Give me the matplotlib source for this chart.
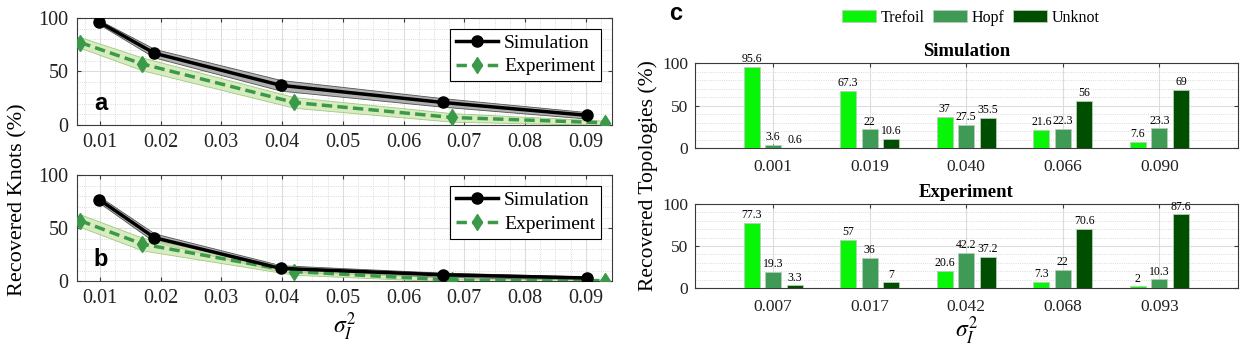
import numpy as np
import matplotlib.pyplot as plt
from matplotlib.ticker import MultipleLocator
from matplotlib.patches import Patch

plt.rcParams['font.family'] = ['Liberation Serif', 'DejaVu Serif']
plt.rcParams['mathtext.fontset'] = 'stix'

# --- panels a, b: recovered knots vs sigma_I^2 ---
sim_x = [0.0099, 0.019, 0.0398, 0.0665, 0.0902]
exp_x = [0.0068, 0.017, 0.042, 0.068, 0.0932]

sim_a = [96, 67, 37, 21, 9]
sim_a_err = [2, 4, 5, 4, 3]
exp_a = [77, 57, 21, 7, 2]
exp_a_err = [5, 6, 5, 4, 2]

sim_b = [77, 41, 12, 6, 3]
sim_b_err = [3, 4, 3, 2, 1.5]
exp_b = [57, 35, 9, 1, 0.5]
exp_b_err = [6, 6, 3, 1.5, 1]

# --- panel c: recovered topologies ---
sim_groups = ['0.001', '0.019', '0.040', '0.066', '0.090']
exp_groups = ['0.007', '0.017', '0.042', '0.068', '0.093']
topologies = ['Trefoil', 'Hopf', 'Unknot']
sim_trefoil = [95.6, 67.3, 37, 21.6, 7.6]
sim_hopf = [3.6, 22, 27.5, 22.3, 23.3]
sim_unknot = [0.6, 10.6, 35.5, 56, 69]
exp_trefoil = [77.3, 57, 20.6, 7.3, 2]
exp_hopf = [19.3, 36, 42.2, 22, 10.3]
exp_unknot = [3.3, 7, 37.2, 70.6, 87.6]

topo_colors = ['#08f508', '#3e9a55', '#004f00']
exp_color = '#3a9a4a'
spine_col = '#3a3a3a'

fig = plt.figure(figsize=(12.59, 3.51), dpi=100)


def style_axes(ax):
    for s in ax.spines.values():
        s.set_color(spine_col)
        s.set_linewidth(0.8)
    ax.tick_params(which='both', direction='in', length=3, colors=spine_col,
                   top=True, right=True)
    ax.tick_params(which='minor', length=0)
    ax.tick_params(labelcolor='#222222')
    ax.grid(which='major', color='#dcdcdc', linewidth=0.8)
    ax.grid(which='minor', color='#cfcfcf', linewidth=0.6, linestyle=':')
    ax.set_axisbelow(True)


def knot_panel(ax, sim, sim_err, exp, exp_err, letter):
    sim = np.array(sim, dtype=float)
    exp = np.array(exp, dtype=float)
    ax.fill_between(sim_x, sim - sim_err, sim + sim_err, facecolor='#a8a8a8',
                    edgecolor='#444444', linewidth=0.6, alpha=0.9, zorder=2)
    ax.fill_between(exp_x, exp - exp_err, exp + exp_err, facecolor='#cfe8b0',
                    edgecolor='#8cc06a', linewidth=0.6, alpha=0.8, zorder=2)
    ax.plot(sim_x, sim, '-o', color='black', lw=2.5, ms=8, label='Simulation', zorder=4)
    ax.plot(exp_x, exp, '--d', color=exp_color, lw=2.5, ms=8, label='Experiment',
            dashes=(3, 1.5), zorder=3)
    ax.set_xlim(0.00622, 0.0943)
    ax.set_ylim(0, 100)
    ax.xaxis.set_minor_locator(MultipleLocator(0.0025))
    ax.yaxis.set_major_locator(MultipleLocator(50))
    ax.yaxis.set_minor_locator(MultipleLocator(10))
    ax.set_xticks([0.01, 0.02, 0.03, 0.04, 0.05, 0.06, 0.07, 0.08, 0.09])
    ax.set_xticklabels(['0.01', '0.02', '0.03', '0.04', '0.05', '0.06', '0.07', '0.08', '0.09'])
    ax.tick_params(labelsize=14.5, pad=6)
    style_axes(ax)
    leg = ax.legend(loc='upper right', fontsize=14, fancybox=False, framealpha=1,
                    edgecolor='black', handlelength=2.2, handletextpad=0.3,
                    borderpad=0.3, labelspacing=0.3, borderaxespad=0.55)
    leg.get_frame().set_linewidth(0.8)
    ax.text(0.045, 0.205, letter, transform=ax.transAxes, fontsize=17,
            fontweight='bold', family='Liberation Sans', va='center', ha='center')


ax_a = fig.add_axes([0.061, 0.644, 0.425, 0.305])
knot_panel(ax_a, sim_a, sim_a_err, exp_a, exp_a_err, 'a')
ax_b = fig.add_axes([0.061, 0.199, 0.425, 0.302])
knot_panel(ax_b, sim_b, sim_b_err, exp_b, exp_b_err, 'b')
ax_b.set_xlabel(r'$\sigma_I^2$', fontsize=17, labelpad=2)
fig.text(0.014, 0.43, 'Recovered Knots (%)', rotation=90, fontsize=16,
         ha='center', va='center')


def bar_panel(ax, groups, vals, title):
    pos = np.arange(1, len(groups) + 1)
    w = 0.166
    offs = [-0.223, 0.0, 0.223]
    for k, (v, c) in enumerate(zip(vals, topo_colors)):
        ax.bar(pos + offs[k], v, width=w, color=c, edgecolor='#b8ccb8',
               linewidth=0.6, label=topologies[k], zorder=3)
        for p, val in zip(pos, v):
            ax.text(p + offs[k], val + 2, f'{val:g}', ha='center', va='bottom',
                    fontsize=8.5)
    ax.set_xlim(0.19, 5.81)
    ax.set_ylim(0, 100)
    ax.set_xticks(pos)
    ax.set_xticklabels(groups)
    ax.yaxis.set_major_locator(MultipleLocator(50))
    ax.yaxis.set_minor_locator(MultipleLocator(10))
    ax.tick_params(labelsize=12.5, pad=5)
    style_axes(ax)
    ax.tick_params(axis='x', which='major', pad=8)
    ax.set_title(title, fontsize=13.5, fontweight='bold', pad=5)


ax_c1 = fig.add_axes([0.552, 0.578, 0.431, 0.242])
bar_panel(ax_c1, sim_groups, [sim_trefoil, sim_hopf, sim_unknot], 'Simulation')
ax_c2 = fig.add_axes([0.552, 0.179, 0.431, 0.240])
bar_panel(ax_c2, exp_groups, [exp_trefoil, exp_hopf, exp_unknot], 'Experiment')
ax_c2.set_xlabel(r'$\sigma_I^2$', fontsize=17, labelpad=0)
fig.text(0.515, 0.5, 'Recovered Topologies (%)', rotation=90, fontsize=15.5,
         ha='center', va='center')

handles = [Patch(facecolor=c, edgecolor='#b8ccb8', linewidth=0.6) for c in topo_colors]
fig.legend(handles, topologies, loc='center', bbox_to_anchor=(0.771, 0.949), ncol=3,
           frameon=False, fontsize=11.5, handlelength=2.1, handleheight=0.8,
           handletextpad=0.3, columnspacing=0.55)
fig.text(0.537, 0.962, 'c', fontsize=17, fontweight='bold',
         family='Liberation Sans', ha='center', va='center')

fig.savefig('out.png', dpi=100)
